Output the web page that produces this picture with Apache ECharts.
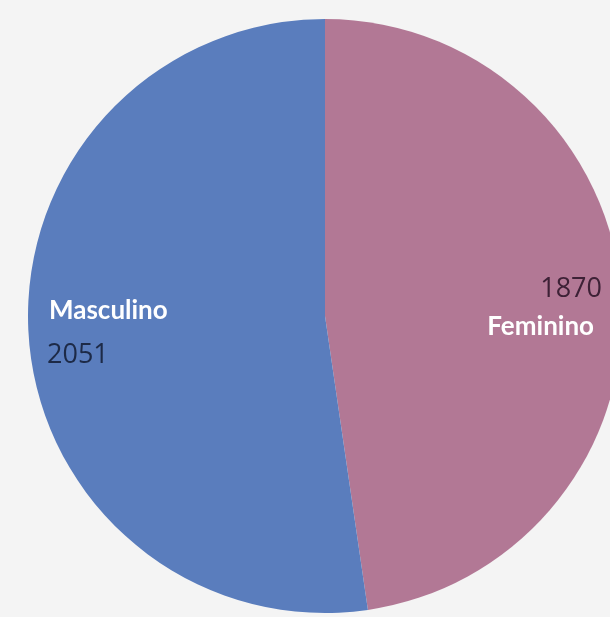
<!DOCTYPE html>
<html>
<head>
<meta charset="utf-8">
<style>
  html, body { margin: 0; padding: 0; background: #f4f4f4; }
  #chart { width: 610px; height: 617px; }
</style>
<script src="https://cdn.jsdelivr.net/npm/echarts@6/dist/echarts.min.js"></script>
</head>
<body>
<div id="chart"></div>
<script>
  // data
  const categories = ['Feminino', 'Masculino'];
  const values = [1870, 2051];
  const colors = ['#b27895', '#5a7dbd'];
  const valueColors = ['#3d2136', '#1d2a47'];

  const chart = echarts.init(document.getElementById('chart'), null, { renderer: 'canvas' });

  // label anchors: Feminino right-aligned, Masculino left-aligned
  const labelPos = [
    { name: [594, 327], value: [602, 289], align: 'right' },
    { name: [49, 311], value: [47, 355], align: 'left' }
  ];

  const graphics = [];
  categories.forEach((c, i) => {
    const p = labelPos[i];
    graphics.push({
      type: 'text', x: p.name[0], y: p.name[1], z: 100,
      style: {
        text: c, fill: '#ffffff', align: p.align, verticalAlign: 'middle',
        fontSize: 26, fontWeight: 'bold', fontFamily: 'Lato, "Open Sans", sans-serif'
      }
    });
    graphics.push({
      type: 'text', x: p.value[0], y: p.value[1], z: 100,
      style: {
        text: String(values[i]), fill: valueColors[i], align: p.align, verticalAlign: 'middle',
        fontSize: 27, fontFamily: '"Open Sans", sans-serif'
      }
    });
  });

  chart.setOption({
    backgroundColor: '#f4f4f4',
    animation: false,
    series: [{
      type: 'pie',
      center: [325, 316],
      radius: [0, 297],
      startAngle: 90,
      clockwise: true,
      z: 1,
      label: { show: false },
      labelLine: { show: false },
      itemStyle: { borderWidth: 0 },
      data: categories.map((c, i) => ({ name: c, value: values[i], itemStyle: { color: colors[i] } }))
    }],
    graphic: { elements: graphics }
  });
</script>
</body>
</html>
